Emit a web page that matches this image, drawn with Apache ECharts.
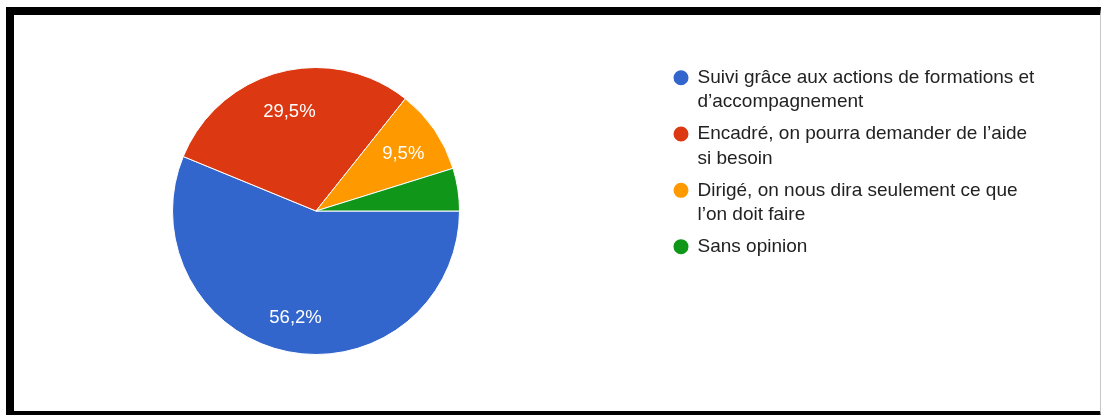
<!DOCTYPE html>
<html>
<head>
<meta charset="utf-8">
<script src="https://cdn.jsdelivr.net/npm/echarts@6/dist/echarts.min.js"></script>
<style>
  html, body { margin: 0; padding: 0; background: #fff; }
  #frame {
    position: absolute; left: 6px; top: 7px; width: 1086px; height: 396px;
    border-top: 8px solid #000; border-left: 8px solid #000; border-bottom: 8px solid #000;
    border-right: 1px solid #c8c8c8;
  }
  #chart { position: absolute; left: 0; top: 0; width: 1102px; height: 415px; }
</style>
</head>
<body>
<div id="frame"></div>
<div id="chart"></div>
<script>
// ---- data ----
const categories = [
  "Suivi grâce aux actions de formations et\nd\u2019accompagnement",
  "Encadré, on pourra demander de l\u2019aide\nsi besoin",
  "Dirigé, on nous dira seulement ce que\nl\u2019on doit faire",
  "Sans opinion"
];
const values = [56.2, 29.5, 9.5, 4.8];
const colors = ["#3366cc", "#dc3912", "#ff9900", "#109618"];

// ---- chart ----
const FONT = "'Liberation Sans', Arial, sans-serif";
const FS_LEGEND = 19;
const FS_LABEL = 18.5;
const LH = 24.5;
const LABEL_MIN = 5; // slices below this percentage get no label

const pieData = categories.map((name, i) => ({ name, value: values[i] }));

// pad each legend text to 3 lines so that its first line sits at the icon's centre
function legendText(name) {
  const lines = name.split("\n");
  const out = [""].concat(lines);
  while (out.length < 3) out.push("");
  return out.join("\n");
}

const chart = echarts.init(document.getElementById("chart"), null, { renderer: "canvas" });
chart.setOption({
  animation: false,
  color: colors,
  legend: {
    orient: "vertical",
    left: 671.5,
    top: 41,
    padding: 0,
    itemGap: -17.2,
    itemWidth: 17,
    itemHeight: 17,
    icon: "circle",
    selectedMode: false,
    data: categories,
    formatter: legendText,
    textStyle: { fontFamily: FONT, fontSize: FS_LEGEND, lineHeight: LH, color: "#222", padding: [0, 0, 0, 3] }
  },
  series: [
    {
      type: "pie",
      center: [316, 211],
      radius: 143.5,
      startAngle: 0,
      clockwise: true,
      label: { show: false },
      labelLine: { show: false },
      emphasis: { disabled: true },
      itemStyle: { borderColor: "#fff", borderWidth: 1 },
      data: pieData
    },
    {
      type: "pie",
      silent: true,
      center: [316, 211],
      radius: [62, 143.5],
      startAngle: 0,
      clockwise: true,
      emphasis: { disabled: true },
      itemStyle: { color: "rgba(0,0,0,0)", borderWidth: 0 },
      labelLine: { show: false },
      label: {
        show: true,
        position: "inside",
        color: "#fff",
        fontFamily: FONT,
        fontSize: FS_LABEL,
        offset: [0, 3],
        formatter: p => p.value < LABEL_MIN ? "" : p.value.toFixed(1).replace(".", ",") + "%"
      },
      data: pieData
    }
  ]
});
</script>
</body>
</html>
